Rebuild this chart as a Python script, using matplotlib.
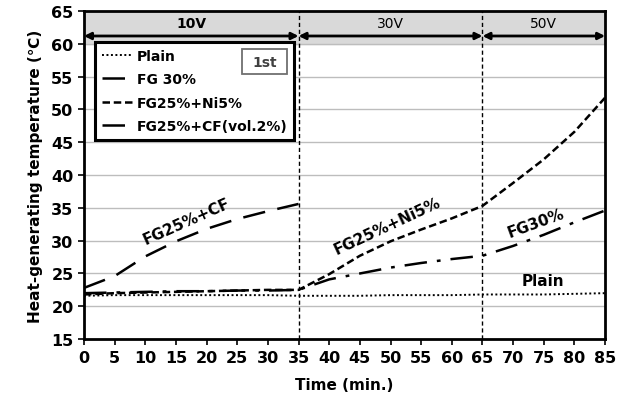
import matplotlib.pyplot as plt
from matplotlib.patches import Rectangle

# Time axis (min.)
time = [0, 5, 10, 15, 20, 25, 30, 35, 40, 45, 50, 55, 60, 65, 70, 75, 80, 85]
time_cf = [0, 5, 10, 15, 20, 25, 30, 35]

# Heat-generating temperature readings
plain = [21.6, 21.7, 21.7, 21.7, 21.7, 21.7, 21.7, 21.6, 21.6, 21.6,
         21.7, 21.7, 21.7, 21.8, 21.8, 21.8, 21.9, 22.0]
fg30 = [22.0, 22.1, 22.2, 22.3, 22.3, 22.4, 22.4, 22.5, 24.1, 25.0,
        25.9, 26.6, 27.2, 27.7, 29.2, 30.9, 32.8, 34.6]
fg25_ni5 = [21.8, 22.0, 22.1, 22.2, 22.3, 22.4, 22.5, 22.5, 24.9, 27.7,
            29.9, 31.7, 33.4, 35.3, 38.8, 42.4, 46.6, 51.8]
fg25_cf = [22.8, 24.6, 27.6, 29.9, 31.8, 33.3, 34.5, 35.6]

# Voltage stages
stage_edges = [0, 35, 65, 85]
stage_labels = ["10V", "30V", "50V"]

figure = plt.figure(figsize=(6.29, 4.02), dpi=100)
axes = figure.add_axes([0.1335, 0.154, 0.8285, 0.816])

# Grey band holding the voltage labels
axes.axhspan(60, 65, color="#d9d9d9", zorder=0)
for y in range(20, 65, 5):
    axes.axhline(y, color="#bdbdbd", linewidth=1, zorder=0.5)

# Curves
axes.plot(time, plain, color="black", linestyle=(0, (1, 1.3)), linewidth=1.4,
          label="Plain")
axes.plot(time, fg30, color="black", linestyle=(0, (9, 4, 1.5, 4)), linewidth=1.8,
          label="FG 30%")
axes.plot(time, fg25_ni5, color="black", linestyle=(0, (3, 1.5)), linewidth=1.8,
          label="FG25%+Ni5%")
axes.plot(time_cf, fg25_cf, color="black", linestyle=(0, (9, 5)), linewidth=1.8,
          label="FG25%+CF(vol.2%)")

# Stage dividers, arrows and labels
for x in stage_edges[1:-1]:
    axes.axvline(x, color="black", linestyle=(0, (3, 2)), linewidth=1, zorder=3)
for i, lab in enumerate(stage_labels):
    x0, x1 = stage_edges[i], stage_edges[i + 1]
    axes.annotate("", xy=(x0, 61.2), xytext=(x1, 61.2),
                  arrowprops=dict(arrowstyle="<|-|>", color="black", lw=2,
                                  shrinkA=0, shrinkB=0, mutation_scale=10))
    axes.text((x0 + x1) / 2, 63.2, lab, ha="center", va="center", fontsize=10,
              fontweight="bold" if i == 0 else "normal")

# Curve labels
axes.text(16.7, 33.0, "FG25%+CF", rotation=24, ha="center", va="center",
          fontsize=11, fontweight="bold")
axes.text(49.4, 32.4, "FG25%+Ni5%", rotation=25, ha="center", va="center",
          fontsize=11, fontweight="bold")
axes.text(73.8, 32.8, "FG30%", rotation=20, ha="center", va="center",
          fontsize=11, fontweight="bold")
axes.text(74.9, 23.9, "Plain", ha="center", va="center",
          fontsize=11, fontweight="bold")

# Legend
legend = axes.legend(loc="upper left", bbox_to_anchor=(0.021, 0.906),
                     borderaxespad=0, frameon=True, fancybox=False,
                     edgecolor="black", framealpha=1,
                     handlelength=2.2, handletextpad=0.3, borderpad=0.5,
                     labelspacing=0.68, prop=dict(weight="bold", size=10))
legend.get_frame().set_linewidth(2.2)
legend.set_zorder(5)
axes.add_patch(Rectangle((25.8, 55.4), 7.3, 3.8, facecolor="white",
                         edgecolor="#707070", linewidth=1.3, zorder=6))
axes.text(29.45, 57.3, "1st", ha="center", va="center", fontsize=10,
          fontweight="bold", color="#404040", zorder=7)

# Axes
axes.set(xlim=(0, 85), ylim=(15, 65))
axes.set_xticks(range(0, 86, 5))
axes.set_yticks(range(15, 66, 5))
axes.tick_params(labelsize=11.5, width=1.2, length=4)
for label in axes.get_xticklabels() + axes.get_yticklabels():
    label.set_fontweight("bold")
for spine in axes.spines.values():
    spine.set_linewidth(2)
axes.set_xlabel("Time (min.)", fontsize=11, fontweight="bold", labelpad=9)
axes.set_ylabel("Heat-generating temperature (℃)", fontsize=11,
                fontweight="bold", labelpad=6)

figure.savefig("out.png", dpi=100)
